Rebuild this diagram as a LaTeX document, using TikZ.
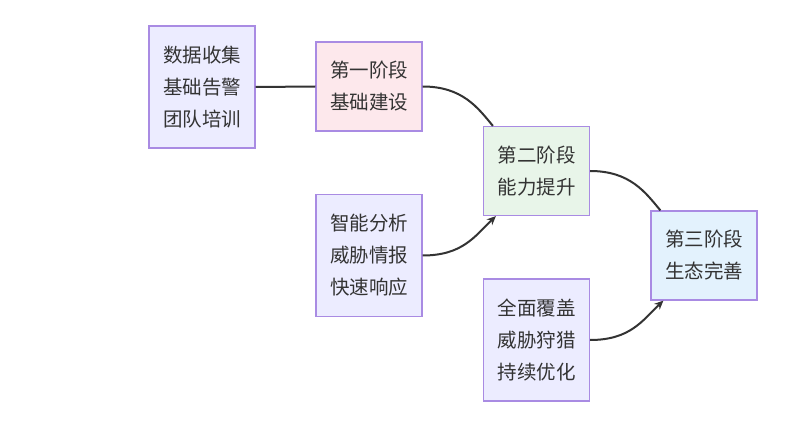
\documentclass[tikz,border=0pt]{standalone}
\usepackage{fontspec}
\newfontfamily\cjk{Noto Sans CJK SC}
\usetikzlibrary{calc,arrows.meta}
\definecolor{edgec}{HTML}{333333}
\definecolor{bordc}{HTML}{A98BE3}
\definecolor{purfill}{HTML}{ECECFF}
\definecolor{pinkfill}{HTML}{FDE8EC}
\definecolor{greenfill}{HTML}{E8F5E9}
\definecolor{bluefill}{HTML}{E3F2FD}
\tikzset{
  box/.style={draw=bordc, line width=1.2pt, minimum width=106pt, inner sep=0pt,
    align=center, text=edgec, font=\cjk\fontsize{19.5}{32}\selectfont},
  tall/.style={box, minimum height=122pt},
  short/.style={box, minimum height=89pt},
  link/.style={draw=edgec, line width=2pt},
  arr/.style={link, -{Stealth[length=9pt,width=8pt]}}
}
\begin{document}
\begin{tikzpicture}[x=1pt,y=-1pt]
\useasboundingbox (0,0) rectangle (807,433);
\node[tall, fill=purfill] (a) at (202,87) {数据收集\\基础告警\\团队培训};
\node[short, fill=pinkfill] (p1) at (369,86.5) {第一阶段\\基础建设};
\node[short, fill=greenfill] (p2) at (536.5,171) {第二阶段\\能力提升};
\node[tall, fill=purfill] (b) at (369,255.5) {智能分析\\威胁情报\\快速响应};
\node[tall, fill=purfill] (c) at (536.5,340) {全面覆盖\\威胁狩猎\\持续优化};
\node[short, fill=bluefill] (p3) at (704,255.5) {第三阶段\\生态完善};
\draw[link] (a.east) -- (p1.west);
\draw[link] (p1.east) .. controls +(40,0) and ($(p2.north west)+(-5,-18)$) .. ($(p2.north west)+(10,0)$);
\draw[link] (p2.east) .. controls +(40,0) and ($(p3.north west)+(-5,-18)$) .. ($(p3.north west)+(10,0)$);
\draw[arr] (b.east) .. controls +(40,0) and ($(p2.south west)+(-8,20)$) .. ($(p2.south west)+(13,0)$);
\draw[arr] (c.east) .. controls +(40,0) and ($(p3.south west)+(-8,20)$) .. ($(p3.south west)+(13,0)$);
\end{tikzpicture}
\end{document}
